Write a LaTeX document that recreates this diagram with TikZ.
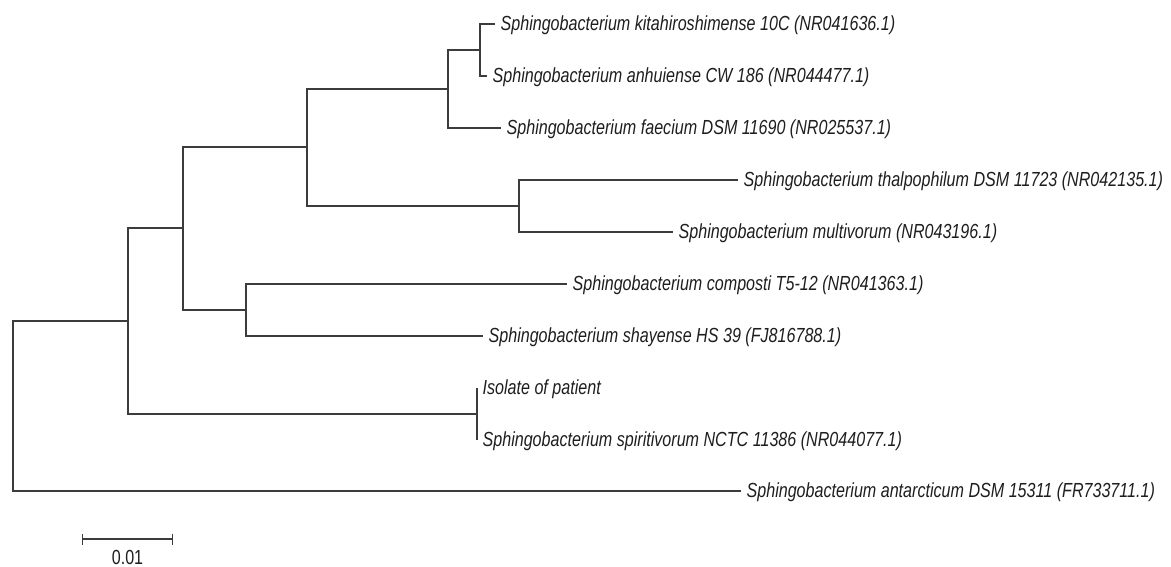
\documentclass[tikz,border=0pt]{standalone}
\usepackage{fontspec}
\setmainfont[FakeStretch=0.79]{Liberation Sans}
\usepackage{tikz}
\usetikzlibrary{arrows.meta, positioning}
\definecolor{mybranch}{RGB}{60,60,60}
\definecolor{mytext}{RGB}{30,30,30}
\tikzset{
  branch/.style={line width=0.75pt, color=mybranch},
  leaf/.style={anchor=west, inner xsep=3pt, inner ysep=0pt,
    text height=0.72em, text depth=0pt, text=mytext,
    font=\fontsize{11.6}{14}\selectfont\itshape},
  scalebar/.style={line width=0.75pt, color=mybranch,
    {Bar[width=0.22cm]}-{Bar[width=0.22cm]}},
  scalelbl/.style={inner sep=1pt, text=mytext,
    font=\fontsize{11.6}{14}\selectfont}
}

\begin{document}
\begin{tikzpicture}[x=0.02cm, y=-0.02cm]
  \useasboundingbox (0,0) rectangle (1171,566);
  % inner nodes
  \coordinate (root) at (13,406);
  \coordinate (n1) at (128,321);
  \coordinate (n2) at (183,228);
  \coordinate (n3) at (307,147);
  \coordinate (n4) at (448,89);
  \coordinate (n5) at (480,50);
  \coordinate (n6) at (246,310);
  \coordinate (n7) at (519,206);
  \coordinate (n8) at (477,414);
  % tips
  \coordinate (t1) at (495,24);
  \coordinate (t2) at (487,76);
  \coordinate (t3) at (501,128);
  \coordinate (t4) at (738,180);
  \coordinate (t5) at (673,232);
  \coordinate (t6) at (567,284);
  \coordinate (t7) at (483,336);
  \coordinate (t8) at (477,388);
  \coordinate (t9) at (477,440);
  \coordinate (t10) at (741,491);
  \node[leaf] (l1) at (t1) {Sphingobacterium kitahiroshimense 10C (NR041636.1)};
  \node[leaf] (l2) at (t2) {Sphingobacterium anhuiense CW 186 (NR044477.1)};
  \node[leaf] (l3) at (t3) {Sphingobacterium faecium DSM 11690 (NR025537.1)};
  \node[leaf] (l4) at (t4) {Sphingobacterium thalpophilum DSM 11723 (NR042135.1)};
  \node[leaf] (l5) at (t5) {Sphingobacterium multivorum (NR043196.1)};
  \node[leaf] (l6) at (t6) {Sphingobacterium composti T5-12 (NR041363.1)};
  \node[leaf] (l7) at (t7) {Sphingobacterium shayense HS 39 (FJ816788.1)};
  \node[leaf] (l8) at (t8) {Isolate of patient};
  \node[leaf] (l9) at (t9) {Sphingobacterium spiritivorum NCTC 11386 (NR044077.1)};
  \node[leaf] (l10) at (t10) {Sphingobacterium antarcticum DSM 15311 (FR733711.1)};
  % branches
  \draw[branch] (root) |- (n1);
  \draw[branch] (root) |- (t10);
  \draw[branch] (n1) |- (n2);
  \draw[branch] (n1) |- (n8);
  \draw[branch] (n2) |- (n3);
  \draw[branch] (n2) |- (n6);
  \draw[branch] (n3) |- (n4);
  \draw[branch] (n3) |- (n7);
  \draw[branch] (n4) |- (n5);
  \draw[branch] (n4) |- (t3);
  \draw[branch] (n5) |- (t1);
  \draw[branch] (n5) |- (t2);
  \draw[branch] (n6) |- (t6);
  \draw[branch] (n6) |- (t7);
  \draw[branch] (n7) |- (t4);
  \draw[branch] (n7) |- (t5);
  \draw[branch] (n8) |- (t8);
  \draw[branch] (n8) |- (t9);
  % scale
  \coordinate (s0) at (82,539);
  \coordinate (s1) at (173,539);
  \draw[scalebar] (s0) -- (s1);
  \node[scalelbl] (sl) at (127.5,557) {0.01};
\end{tikzpicture}
\end{document}
